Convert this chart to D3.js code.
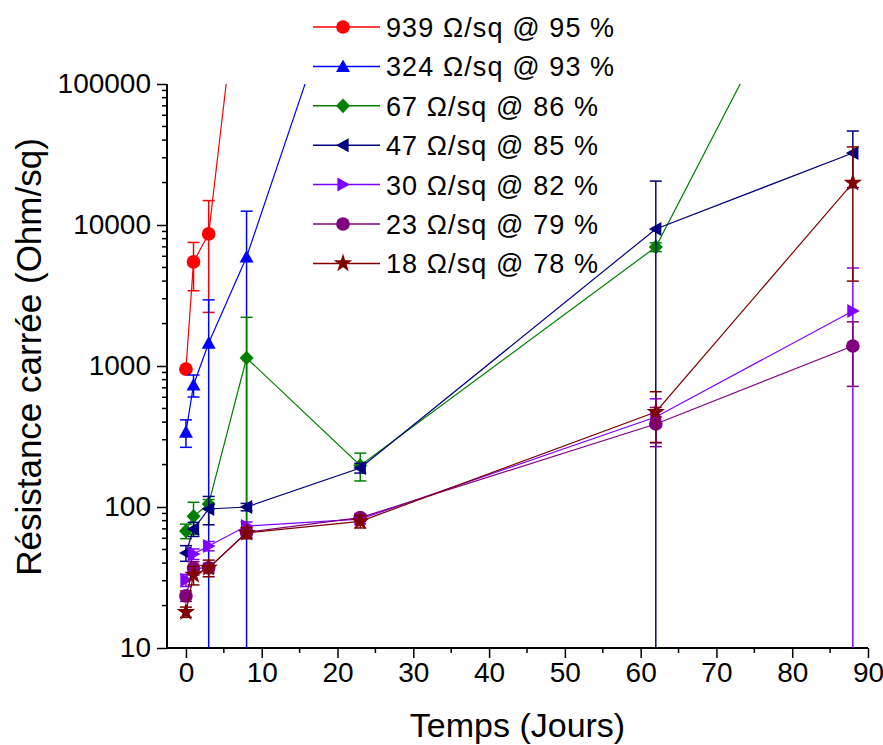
<!DOCTYPE html>
<html><head><meta charset="utf-8">
<script src="https://cdnjs.cloudflare.com/ajax/libs/d3/7.8.5/d3.min.js"></script>
<style>
body{margin:0;background:#fff;}
text{font-family:"Liberation Sans",Arial,sans-serif;fill:#000;}
</style></head>
<body><svg id="c" width="883" height="745"></svg>
<script>
// ---- data ----
const days = [0, 1, 3, 8, 23, 62, 88];
const seriesNames = ["939 Ω/sq @ 95 %", "324 Ω/sq @ 93 %", "67 Ω/sq @ 86 %", "47 Ω/sq @ 85 %", "30 Ω/sq @ 82 %", "23 Ω/sq @ 79 %", "18 Ω/sq @ 78 %"];
const seriesColors = ["#ff0000", "#0000ff", "#008000", "#000080", "#8000ff", "#800080", "#800000"];
const seriesSymbols = ["circle", "triUp", "diamond", "triLeft", "triRight", "circle", "star"];
const r939 = [950, 5470, 8650, 1.74e6, null, null, null];
const r939Err = [30, 2050, 6250, 0, null, null, null];
const r324 = [340, 733, 1455, 5930, 1.44e6, null, null];
const r324Err = [75, 130, 1490, 6600, 0, null, null];
const r67 = [67.6, 86, 105, 1140, 197, 6980, 3.5e6];
const r67Err = [8, 22, 8, 1075, 44, 500, 0];
const r47 = [47.2, 69.8, 96.8, 100, 189, 9380, 32400];
const r47Err = [6, 8, 22, 6, 15, 11100, 14000];
const r30 = [30.3, 46.4, 52.9, 73.3, 82, 435, 2455];
const r30Err = [3, 4, 4, 5, 6, 150, 2500];
const r23 = [23.4, 36.9, 37, 66, 84, 388, 1387];
const r23Err = [2, 4, 3, 5, 5, 120, 670];
const r18 = [18, 33, 37, 65.5, 79, 472, 19900];
const r18Err = [1.5, 5, 5, 6, 8, 185, 15900];
const xTicks = [0, 10, 20, 30, 40, 50, 60, 70, 80, 90];
const yTicks = [10, 100, 1000, 10000, 100000];
const xLabel = "Temps (Jours)";
const yLabel = "Résistance carrée (Ohm/sq)";

const values = [r939, r324, r67, r47, r30, r23, r18];
const errors = [r939Err, r324Err, r67Err, r47Err, r30Err, r23Err, r18Err];

// ---- layout ----
const L = 167, R = 868, T = 84, B = 648;
const svg = d3.select("#c");
const x = d3.scaleLinear().domain([-2.5, 90]).range([L, R]);
const y = d3.scaleLog().domain([10, 100000]).range([B, T]);

svg.append("defs").append("clipPath").attr("id", "clip")
  .append("rect").attr("x", L).attr("y", T).attr("width", R - L).attr("height", B - T);

// axes
const xAxis = d3.axisBottom(x).tickValues(xTicks).tickSize(10).tickPadding(4).tickFormat(d3.format("d"));
const gx = svg.append("g").attr("transform", `translate(0,${B})`).call(xAxis);
gx.append("g").selectAll("line").data(d3.range(5, 90, 10)).join("line")
  .attr("x1", d => x(d)).attr("x2", d => x(d)).attr("y1", 0).attr("y2", 5).attr("stroke", "#000").attr("stroke-width", 1.5);
const yAxis = d3.axisLeft(y).tickValues(yTicks).tickSize(10).tickPadding(6).tickFormat(d3.format("d"));
const gy = svg.append("g").attr("transform", `translate(${L},0)`).call(yAxis);
const minors = [];
for (let e = 1; e < 5; e++) for (let k = 2; k <= 9; k++) minors.push(k * Math.pow(10, e));
gy.append("g").selectAll("line").data(minors).join("line")
  .attr("y1", d => y(d)).attr("y2", d => y(d)).attr("x1", 0).attr("x2", -5).attr("stroke", "#000").attr("stroke-width", 1.5);
[gx, gy].forEach(g => {
  g.select(".domain").attr("stroke", "#000").attr("stroke-width", 2).attr("d", g === gx ? `M${L},0H${R}` : `M0,${B}V${T}`);
  g.selectAll(".tick line").attr("stroke-width", 1.5);
  g.selectAll(".tick text").attr("font-size", 28).attr("font-family", "Liberation Sans, Arial, sans-serif").attr("fill", "#000");
});

// axis titles
svg.append("text").attr("x", (L + R) / 2).attr("y", 737).attr("text-anchor", "middle").attr("font-size", 34).text(xLabel);
svg.append("text").attr("transform", `translate(41,${357}) rotate(-90)`).attr("text-anchor", "middle").attr("font-size", 35).text(yLabel);

// symbols
function symPath(kind, s) {
  const h = s * 0.5;
  switch (kind) {
    case "circle": return d3.symbol(d3.symbolCircle, s * s * 0.75)();
    case "diamond": return `M0,${-h * 1.05}L${h},0L0,${h * 1.05}L${-h},0Z`;
    case "triUp": return `M0,${-h}L${h},${h * 0.8}L${-h},${h * 0.8}Z`;
    case "triLeft": return `M${-h},0L${h * 0.8},${-h}L${h * 0.8},${h}Z`;
    case "triRight": return `M${h},0L${-h * 0.8},${-h}L${-h * 0.8},${h}Z`;
    case "star": return d3.symbol(d3.symbolStar, s * s * 0.55)();
  }
}

const plot = svg.append("g").attr("clip-path", "url(#clip)");
values.forEach((vals, i) => {
  const col = seriesColors[i];
  const pts = days.map((d, j) => ({ d, v: vals[j], e: errors[i][j] })).filter(p => p.v != null);
  const g = plot.append("g");
  g.append("path").datum(pts).attr("fill", "none").attr("stroke", col).attr("stroke-width", 1.2)
    .attr("d", d3.line().x(p => x(p.d)).y(p => y(p.v)));
  const eb = pts.filter(p => p.e > 0);
  eb.forEach(p => {
    const hi = y(p.v + p.e);
    const lo = p.v - p.e > 0 ? y(p.v - p.e) : B + 5;
    const cx = x(p.d);
    g.append("line").attr("x1", cx).attr("x2", cx).attr("y1", hi).attr("y2", lo).attr("stroke", col).attr("stroke-width", 1.5);
    g.append("line").attr("x1", cx - 6).attr("x2", cx + 6).attr("y1", hi).attr("y2", hi).attr("stroke", col).attr("stroke-width", 1.5);
    if (p.v - p.e > 0) g.append("line").attr("x1", cx - 6).attr("x2", cx + 6).attr("y1", lo).attr("y2", lo).attr("stroke", col).attr("stroke-width", 1.5);
  });
  g.selectAll("path.m").data(pts).join("path").attr("class", "m")
    .attr("transform", p => `translate(${x(p.d)},${y(p.v)})`)
    .attr("d", symPath(seriesSymbols[i], 14)).attr("fill", col);
});

// legend
const lg = svg.append("g");
seriesNames.forEach((nm, i) => {
  const cy = 27 + i * 39.4;
  lg.append("line").attr("x1", 313).attr("x2", 380).attr("y1", cy).attr("y2", cy).attr("stroke", seriesColors[i]).attr("stroke-width", 1.5);
  lg.append("path").attr("transform", `translate(343,${cy})`).attr("d", symPath(seriesSymbols[i], 14)).attr("fill", seriesColors[i]);
  lg.append("text").attr("x", 386).attr("y", cy + 10).attr("font-size", 27).attr("letter-spacing", 1.1).text(nm);
});
</script></body></html>
